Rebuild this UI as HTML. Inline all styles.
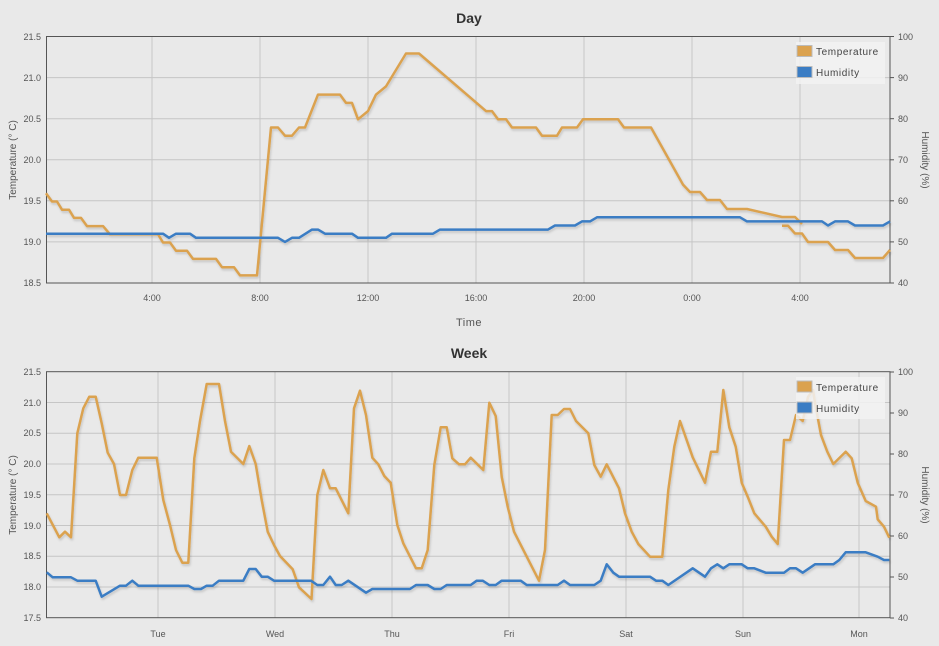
<!DOCTYPE html>
<html><head><style>
html,body{margin:0;padding:0;background:#e9e9e9;}
svg{display:block;font-family:"Liberation Sans",sans-serif;}
</style></head><body>
<svg width="939" height="646" viewBox="0 0 939 646">
<defs><filter id="sh" x="-5%" y="-5%" width="110%" height="120%"><feDropShadow dx="1" dy="2" stdDeviation="1" flood-color="#000" flood-opacity="0.15"/></filter></defs>
<rect width="939" height="646" fill="#e9e9e9"/>
<!-- DAY -->
<text x="469" y="23" text-anchor="middle" font-size="14" font-weight="bold" fill="#333">Day</text>
<g stroke="#c6c6c6" stroke-width="1">
<line x1="46.5" x2="890" y1="77.6" y2="77.6"/><line x1="46.5" x2="890" y1="118.7" y2="118.7"/><line x1="46.5" x2="890" y1="159.8" y2="159.8"/><line x1="46.5" x2="890" y1="200.8" y2="200.8"/><line x1="46.5" x2="890" y1="241.9" y2="241.9"/>
<line x1="152" x2="152" y1="36.5" y2="283"/><line x1="260" x2="260" y1="36.5" y2="283"/><line x1="368" x2="368" y1="36.5" y2="283"/><line x1="476" x2="476" y1="36.5" y2="283"/><line x1="584" x2="584" y1="36.5" y2="283"/><line x1="692" x2="692" y1="36.5" y2="283"/><line x1="800" x2="800" y1="36.5" y2="283"/>
</g>
<rect x="46.5" y="36.5" width="843.5" height="246.5" fill="none" stroke="#555" stroke-width="1"/>
<g stroke="#555"><line x1="890" x2="894" y1="36.5" y2="36.5"/><line x1="890" x2="894" y1="77.6" y2="77.6"/><line x1="890" x2="894" y1="118.7" y2="118.7"/><line x1="890" x2="894" y1="159.8" y2="159.8"/><line x1="890" x2="894" y1="200.8" y2="200.8"/><line x1="890" x2="894" y1="241.9" y2="241.9"/><line x1="890" x2="894" y1="283" y2="283"/></g>
<g font-size="9" fill="#555" text-anchor="end">
<text x="41" y="40">21.5</text><text x="41" y="81">21.0</text><text x="41" y="122">20.5</text><text x="41" y="163">20.0</text><text x="41" y="204">19.5</text><text x="41" y="245">19.0</text><text x="41" y="286">18.5</text></g>
<g font-size="9" fill="#555"><text x="898" y="40">100</text><text x="898" y="81">90</text><text x="898" y="122">80</text><text x="898" y="163">70</text><text x="898" y="204">60</text><text x="898" y="245">50</text><text x="898" y="286">40</text></g>
<g font-size="9" fill="#555" text-anchor="middle"><text x="152" y="301">4:00</text><text x="260" y="301">8:00</text><text x="368" y="301">12:00</text><text x="476" y="301">16:00</text><text x="584" y="301">20:00</text><text x="692" y="301">0:00</text><text x="800" y="301">4:00</text></g>
<text x="469" y="326" text-anchor="middle" font-size="11" fill="#555" letter-spacing="0.5">Time</text>
<text transform="translate(16,160) rotate(-90)" text-anchor="middle" font-size="10" fill="#555">Temperature (° C)</text>
<text transform="translate(922,160) rotate(90)" text-anchor="middle" font-size="10" fill="#555">Humidity (%)</text>
<g fill="none" stroke-width="2.5" stroke-linejoin="round" filter="url(#sh)">
<path stroke="#dba24f" d="M46,193.3 L52,201.5 L57,201.5 L62,209.7 L69,209.7 L74,217.9 L81,217.9 L87,226.1 L103,226.1 L110,234.3 L158,234.3 L163,242.5 L170,242.5 L176,250.7 L187,250.7 L193,258.9 L216,258.9 L222,267.2 L234,267.2 L240,275.4 L257,275.4 L271,127.5 L278,127.5 L285,135.7 L292,135.7 L299,127.5 L305,127.5 L318,94.6 L340,94.6 L346,102.9 L352,102.9 L358,119.3 L368,111.1 L376,94.6 L386,86.4 L406,53.5 L419,53.5 L486,111.1 L492,111.1 L498,119.3 L506,119.3 L512,127.5 L536,127.5 L542,135.7 L557,135.7 L562,127.5 L577,127.5 L583,119.3 L618,119.3 L624,127.5 L651,127.5 L683,184.6 L690,192 L700,192 L707,200 L720,200 L727,209 L747,209 L782,217 L795,217 L802,224 M782,225.7 L788,225.7 L795,233.5 L802,233.5 L808,242 L828,242 L835,250 L848,250 L855,258 L883,258 L890,250"/>
<path stroke="#3b7dc4" d="M46,233.7 L163,233.7 L169,237.8 L176,233.7 L190,233.7 L196,237.8 L278,237.8 L285,241.9 L292,237.8 L299,237.8 L312,229.6 L318,229.6 L325,233.7 L352,233.7 L358,237.8 L386,237.8 L392,233.7 L433,233.7 L440,229.6 L548,229.6 L555,225.5 L575,225.5 L582,221.4 L590,221.4 L597,217.3 L740,217.3 L747,221.4 L822,221.4 L828,225.5 L835,221.4 L848,221.4 L855,225.5 L883,225.5 L890,221.4"/>
</g>
<rect x="796" y="42" width="89" height="42" fill="#f2f2f2" fill-opacity="0.85"/>
<rect x="797" y="45.5" width="15" height="11" fill="#dba24f" stroke="#bbb"/><rect x="797" y="66.5" width="15" height="11" fill="#3b7dc4" stroke="#bbb"/>
<g font-size="10" fill="#444" letter-spacing="0.6"><text x="816" y="55">Temperature</text><text x="816" y="76">Humidity</text></g>

<!-- WEEK -->
<text x="469" y="358" text-anchor="middle" font-size="14" font-weight="bold" fill="#333">Week</text>
<g stroke="#c6c6c6" stroke-width="1">
<line x1="46.5" x2="890" y1="402.5" y2="402.5"/><line x1="46.5" x2="890" y1="433.3" y2="433.3"/><line x1="46.5" x2="890" y1="464" y2="464"/><line x1="46.5" x2="890" y1="494.8" y2="494.8"/><line x1="46.5" x2="890" y1="525.5" y2="525.5"/><line x1="46.5" x2="890" y1="556.3" y2="556.3"/><line x1="46.5" x2="890" y1="587" y2="587"/>
<line x1="158" x2="158" y1="372" y2="618"/><line x1="275" x2="275" y1="372" y2="618"/><line x1="392" x2="392" y1="372" y2="618"/><line x1="509" x2="509" y1="372" y2="618"/><line x1="626" x2="626" y1="372" y2="618"/><line x1="743" x2="743" y1="372" y2="618"/><line x1="859" x2="859" y1="372" y2="618"/>
</g>
<rect x="46.5" y="371.7" width="843.5" height="246" fill="none" stroke="#555" stroke-width="1"/>
<g stroke="#555"><line x1="890" x2="894" y1="372" y2="372"/><line x1="890" x2="894" y1="413" y2="413"/><line x1="890" x2="894" y1="454" y2="454"/><line x1="890" x2="894" y1="495" y2="495"/><line x1="890" x2="894" y1="536" y2="536"/><line x1="890" x2="894" y1="577" y2="577"/><line x1="890" x2="894" y1="618" y2="618"/></g>
<g font-size="9" fill="#555" text-anchor="end">
<text x="41" y="375">21.5</text><text x="41" y="406">21.0</text><text x="41" y="436">20.5</text><text x="41" y="467">20.0</text><text x="41" y="498">19.5</text><text x="41" y="529">19.0</text><text x="41" y="559">18.5</text><text x="41" y="590">18.0</text><text x="41" y="621">17.5</text></g>
<g font-size="9" fill="#555"><text x="898" y="375">100</text><text x="898" y="416">90</text><text x="898" y="457">80</text><text x="898" y="498">70</text><text x="898" y="539">60</text><text x="898" y="580">50</text><text x="898" y="621">40</text></g>
<g font-size="9" fill="#555" text-anchor="middle"><text x="158" y="637">Tue</text><text x="275" y="637">Wed</text><text x="392" y="637">Thu</text><text x="509" y="637">Fri</text><text x="626" y="637">Sat</text><text x="743" y="637">Sun</text><text x="859" y="637">Mon</text></g>
<text transform="translate(16,495) rotate(-90)" text-anchor="middle" font-size="10" fill="#555">Temperature (° C)</text>
<text transform="translate(922,495) rotate(90)" text-anchor="middle" font-size="10" fill="#555">Humidity (%)</text>
<g fill="none" stroke-width="2.5" stroke-linejoin="round" filter="url(#sh)">
<path stroke="#dba24f" d="M46.7,513.3 L59.3,537.3 L65,531.7 L71,537.3 L77.3,433.3 L83.3,408.3 L89.3,396.7 L95.7,396.7 L101.7,423.3 L107.7,452.7 L114,464 L120,495 L126,495 L132.3,470 L138.3,457.7 L156.7,457.7 L163.3,500 L170,525 L176,550 L182.3,562.7 L188.3,562.7 L194.3,458.3 L200,421 L206.7,384 L219,384 L225,421 L231,451.7 L243.3,464 L249.3,446 L255.7,464 L261.7,500 L267.7,531.7 L274,545 L280,556 L292.7,569.3 L299,587.3 L311.5,599 L317.3,495 L323.3,470 L330,488.3 L335.7,488.3 L348.3,513.3 L354,408.3 L360,390.7 L366,415 L372.3,457.7 L378.3,464.3 L384.3,476 L390.7,482.7 L397.3,525 L403.3,543.3 L416,568.3 L421.7,568.3 L427.7,550 L434.3,465 L440.7,427.3 L446.7,427.3 L452.3,458.3 L459,464.3 L465,464.3 L470.7,457.7 L483.3,470 L489.3,402.7 L495.7,416 L501.7,476.7 L507.7,506.7 L514,531.7 L539,580.7 L545,550 L551.7,415 L557.7,415 L564,409 L570,409 L576,421 L588.3,433.3 L594.3,465 L600.7,476.7 L606.7,464.3 L619,488.3 L625,513.3 L631.7,531.7 L638.3,544 L650,556.7 L662.3,556.7 L668.3,490 L674.3,446.7 L680,421 L692.7,457.3 L705,482.7 L711,451.7 L717.3,451.7 L723.3,390 L729.3,427.3 L735.7,446.7 L741.7,482.7 L747.7,496.7 L754.3,513.3 L765.7,526.7 L771.7,536.7 L777.7,544 L784,440 L790,440 L796,415 L802.7,421 L808,397 L813,390 L815,403 L821,435 L827.3,451.7 L833.3,464 L845.7,451.7 L851.7,458.3 L857.7,482.7 L865.7,501 L876,506.7 L877.7,519.3 L884,526.7 L889.3,537.7"/>
<path stroke="#3b7dc4" d="M46.7,572.3 L52.7,577.3 L71,577.3 L77.3,580.7 L95.7,580.7 L101.7,596.7 L120,585.7 L126,585.7 L132.3,580.7 L138.3,585.7 L188.3,585.7 L194.3,589 L201,589 L206.7,585.7 L212.7,585.7 L219,580.7 L243.3,580.7 L249.3,569 L255.7,569 L261.7,576.7 L267.7,576.7 L274,580.7 L311,580.7 L317.3,585 L323.3,585 L330,576.7 L335.7,585 L341.7,585 L348.3,580.7 L366,592.7 L372.3,589 L410,589 L416,585 L427.7,585 L434.3,589 L440.7,589 L446.7,585 L470.7,585 L476.7,580.7 L482.7,580.7 L489.3,585 L495.7,585 L501.7,580.7 L520.7,580.7 L526.7,585 L557.7,585 L564,580.7 L570,585 L594.3,585 L600.7,580.7 L606.7,564.3 L613.3,572.7 L619,576.7 L650,576.7 L656,580.7 L662.3,580.7 L668.3,585 L692.7,568.3 L705,576.7 L711,568.3 L717.3,564.3 L723.3,568.3 L729.3,564.3 L741.7,564.3 L747.7,568.3 L754.3,568.3 L765.7,572.7 L784,572.7 L790,568.3 L796,568.3 L802.7,572.7 L815,564.3 L833.3,564.3 L839.3,560 L845.7,552.3 L865.7,552.3 L877.7,556.7 L884,560 L889.3,560"/>
</g>
<rect x="796" y="377" width="89" height="42" fill="#f2f2f2" fill-opacity="0.85"/>
<rect x="797" y="381" width="15" height="11" fill="#dba24f" stroke="#bbb"/><rect x="797" y="402" width="15" height="11" fill="#3b7dc4" stroke="#bbb"/>
<g font-size="10" fill="#444" letter-spacing="0.6"><text x="816" y="391">Temperature</text><text x="816" y="412">Humidity</text></g>
</svg>
</body></html>
